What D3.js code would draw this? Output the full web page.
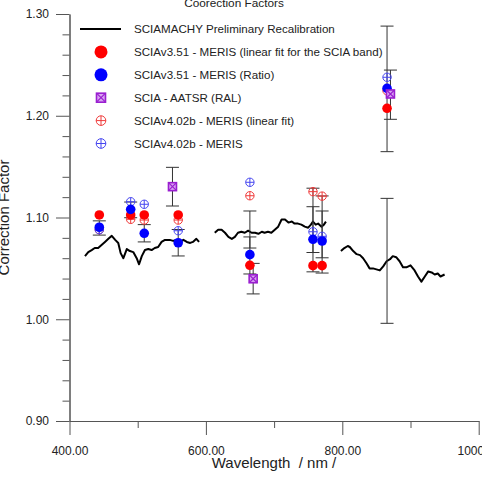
<!DOCTYPE html>
<html>
<head>
<meta charset="utf-8">
<script src="https://cdn.jsdelivr.net/npm/d3@7"></script>
<style>
  body { margin: 0; background: #fff; }
  svg { font-family: "Liberation Sans", Arial, Helvetica, sans-serif; }
</style>
</head>
<body>
<div id="chart"></div>
<script>
let w = 482
let h = 482

// SCIAMACHY preliminary recalibration curve (null = gap)
let recalWl = [422.7, 427.5, 432.5, 437, 442, 447, 452, 457, 462, 467, 471.5, 475, 479, 484, 488.6, 493.5, 498.5, 502, 506, 510.6, 515.5, 520.4, 525, 530, 535, 540, 547, 552, 557, 562, 567, 572, 577, 581, 586, 590,
  600,
  613, 618, 623, 628, 633, 638, 642.5, 647, 652, 657, 662, 667, 672, 677, 682, 686, 691, 696, 701, 706, 711, 716, 721, 726, 730, 735, 740, 745, 750, 754, 757, 761, 764.5, 769.5, 773, 776,
  790,
  798, 803, 808, 811, 816, 821, 826, 830.5, 835.5, 840, 845, 850, 855, 860, 865, 870, 874, 879, 884, 889, 894, 900, 906, 911, 916, 921, 926, 931, 935.5, 940, 944, 950]
let recalVal = [1.062, 1.066, 1.068, 1.070, 1.070, 1.073, 1.076, 1.079, 1.082, 1.078, 1.075, 1.065, 1.060, 1.069, 1.067, 1.066, 1.060, 1.054, 1.062, 1.068, 1.069, 1.068, 1.070, 1.071, 1.076, 1.078, 1.078, 1.077, 1.078, 1.076, 1.078, 1.076, 1.075, 1.076, 1.079, 1.076,
  null,
  1.085, 1.088, 1.088, 1.085, 1.081, 1.079, 1.081, 1.085, 1.086, 1.085, 1.087, 1.085, 1.085, 1.084, 1.086, 1.085, 1.086, 1.085, 1.088, 1.091, 1.098, 1.098, 1.095, 1.096, 1.094, 1.094, 1.093, 1.091, 1.090, 1.093, 1.096, 1.093, 1.094, 1.091, 1.093, 1.096,
  null,
  1.067, 1.070, 1.072, 1.071, 1.067, 1.064, 1.063, 1.060, 1.055, 1.050, 1.050, 1.049, 1.048, 1.052, 1.057, 1.059, 1.062, 1.061, 1.057, 1.051, 1.051, 1.053, 1.048, 1.042, 1.037, 1.042, 1.047, 1.046, 1.044, 1.045, 1.042, 1.044]

// MERIS band centres
let bandWl = [443.7, 489.7, 509.6, 559.4, 664.5, 757, 770.4, 865.6]
let v351Fit = [1.1025, 1.1025, 1.1025, 1.1025, 1.0530, 1.0527, 1.0527, 1.2073]
let v351Ratio = [1.0904, 1.108, 1.0845, 1.0752, 1.0635, 1.0786, 1.0769, 1.227]
let v402Fit = [1.088, 1.0982, 1.0975, 1.0975, 1.1214, 1.1254, 1.121, 1.2246]
let v402 = [1.088, 1.1155, 1.113, 1.087, 1.1346, 1.086, 1.0815, 1.2378]

// SCIA - AATSR
let aatsrWl = [551, 669.3, 870.6]
let aatsrVal = [1.1303, 1.0398, 1.2214]

// error bars
let errWl = [443.7, 489.7, 509.6, 551, 559.4, 664.5, 664.5, 669.3, 757, 757, 770.4, 770.4, 865.6, 870.6, 865.6]
let errVal = [1.0897, 1.1075, 1.0845, 1.1303, 1.0752, 1.0882, 1.0627, 1.0399, 1.0972, 1.0786, 1.0908, 1.0759, 1.2264, 1.2207, 1.0574]
let errHalf = [0.007, 0.0077, 0.0085, 0.019, 0.013, 0.0182, 0.0182, 0.015, 0.0316, 0.032, 0.0304, 0.0305, 0.0617, 0.0242, 0.0614]

let xTicks = [400, 600, 800, 1000]
let xMinor = [500, 700, 900]
let yTicks = [0.90, 1.00, 1.10, 1.20, 1.30]
let yMinor = d3.range(0.92, 1.30, 0.02).filter(v => Math.abs(v * 10 - Math.round(v * 10)) > 0.01)

let legendLabels = ["SCIAMACHY Preliminary Recalibration",
  "SCIAv3.51 - MERIS (linear fit for the SCIA band)",
  "SCIAv3.51 - MERIS (Ratio)",
  "SCIA - AATSR (RAL)",
  "SCIAv4.02b - MERIS (linear fit)",
  "SCIAv4.02b - MERIS"]

let RED = "#ff0000", BLUE = "#0000ff", PURPLE = "#9a1fd0"
let RED_LT = "#f03a3a", BLUE_LT = "#4646f0"
let AXIS = "#555"

let svg = d3.select("#chart").append("svg")
  .attr("width", w)
  .attr("height", h)

let x = d3.scaleLinear().domain([400, 1000]).range([69.5, 478.7])
let y = d3.scaleLinear().domain([0.9, 1.3]).range([421, 14])

// Axes
let styleAxis = g => {
  g.select(".domain").attr("stroke", AXIS)
  g.selectAll(".tick line").attr("stroke", AXIS)
  g.selectAll(".tick text").attr("fill", "#222").attr("font-size", 12)
}

svg.append("g")
  .attr("transform", "translate(0," + y(0.9) + ")")
  .call(d3.axisBottom(x).tickValues(xMinor).tickSize(7).tickSizeOuter(0).tickFormat(""))
  .call(styleAxis)

svg.append("g")
  .attr("transform", "translate(0," + y(0.9) + ")")
  .call(d3.axisBottom(x).tickValues(xTicks).tickSize(14).tickSizeOuter(0).tickPadding(11).tickFormat(d3.format(".2f")))
  .call(styleAxis)

svg.append("g")
  .attr("transform", "translate(" + x(400) + ",0)")
  .call(d3.axisLeft(y).tickValues(yMinor).tickSize(7).tickSizeOuter(0).tickFormat(""))
  .call(styleAxis)

svg.append("g")
  .attr("transform", "translate(" + x(400) + ",0)")
  .call(d3.axisLeft(y).tickValues(yTicks).tickSize(13.5).tickSizeOuter(0).tickPadding(7).tickFormat(d3.format(".2f")))
  .call(styleAxis)

// Titles
svg.append("text")
  .attr("x", 234).attr("y", 7)
  .attr("text-anchor", "middle")
  .attr("font-size", 11.8).attr("fill", "#222")
  .text("Coorection Factors")

svg.append("text")
  .attr("x", 274).attr("y", 468)
  .attr("text-anchor", "middle")
  .attr("font-size", 15).attr("fill", "#222")
  .attr("xml:space", "preserve")
  .text("Wavelength  / nm /")

svg.append("text")
  .attr("transform", "translate(8.5," + y(1.1) + ") rotate(-90)")
  .attr("text-anchor", "middle")
  .attr("font-size", 15).attr("fill", "#222")
  .text("Correction Factor")

// Recalibration curve
let recal = recalWl.map((d, i) => ({ wl: d, v: recalVal[i] }))
let line = d3.line()
  .defined(d => d.v !== null)
  .x(d => x(d.wl))
  .y(d => y(d.v))

svg.append("path")
  .datum(recal)
  .attr("fill", "none")
  .attr("stroke", "#000")
  .attr("stroke-width", 2)
  .attr("stroke-linejoin", "round")
  .attr("d", line)

// Error bars
let errs = errWl.map((d, i) => ({ wl: d, v: errVal[i], e: errHalf[i] }))
let eg = svg.append("g").attr("stroke", "#333").attr("stroke-width", 1)
errs.forEach(d => {
  let cx = x(d.wl), y0 = y(d.v - d.e), y1 = y(d.v + d.e)
  eg.append("line").attr("x1", cx).attr("x2", cx).attr("y1", y0).attr("y2", y1)
  eg.append("line").attr("x1", cx - 6.5).attr("x2", cx + 6.5).attr("y1", y0).attr("y2", y0)
  eg.append("line").attr("x1", cx - 6.5).attr("x2", cx + 6.5).attr("y1", y1).attr("y2", y1)
})

// symbol helpers
let crossCircle = (g, cx, cy, r, color) => {
  g.append("circle").attr("cx", cx).attr("cy", cy).attr("r", r)
    .attr("fill", "none").attr("stroke", color).attr("stroke-width", 1)
  g.append("line").attr("x1", cx - r).attr("x2", cx + r).attr("y1", cy).attr("y2", cy)
    .attr("stroke", color).attr("stroke-width", 1)
  g.append("line").attr("x1", cx).attr("x2", cx).attr("y1", cy - r).attr("y2", cy + r)
    .attr("stroke", color).attr("stroke-width", 1)
}
let xSquare = (g, cx, cy, s) => {
  g.append("rect").attr("x", cx - s / 2).attr("y", cy - s / 2).attr("width", s).attr("height", s)
    .attr("fill", "#d9a3f2").attr("stroke", PURPLE).attr("stroke-width", 1.6)
  g.append("path")
    .attr("d", `M${cx - s / 2},${cy - s / 2}L${cx + s / 2},${cy + s / 2}M${cx + s / 2},${cy - s / 2}L${cx - s / 2},${cy + s / 2}`)
    .attr("stroke", PURPLE).attr("stroke-width", 1.2)
}

let pts = svg.append("g")

// v4.02b hollow markers
bandWl.forEach((d, i) => crossCircle(pts, x(d), y(v402Fit[i]), 4.2, RED_LT))
bandWl.forEach((d, i) => crossCircle(pts, x(d), y(v402[i]), 4.2, BLUE_LT))

// v3.51 filled markers
pts.selectAll("circle.fit").data(bandWl).enter().append("circle")
  .attr("class", "fit")
  .attr("cx", d => x(d)).attr("cy", (d, i) => y(v351Fit[i])).attr("r", 4.8)
  .attr("fill", RED)
pts.selectAll("circle.ratio").data(bandWl).enter().append("circle")
  .attr("class", "ratio")
  .attr("cx", d => x(d)).attr("cy", (d, i) => y(v351Ratio[i])).attr("r", 4.8)
  .attr("fill", BLUE)

// AATSR
aatsrWl.forEach((d, i) => xSquare(pts, x(d), y(aatsrVal[i]), 8))

// Legend
let lg = svg.append("g")
let rowY = i => 29 + i * 22.9
lg.append("line").attr("x1", 80).attr("x2", 121).attr("y1", rowY(0)).attr("y2", rowY(0))
  .attr("stroke", "#000").attr("stroke-width", 2)
lg.append("circle").attr("cx", 101).attr("cy", rowY(1)).attr("r", 6.5).attr("fill", RED)
lg.append("circle").attr("cx", 101).attr("cy", rowY(2)).attr("r", 6.5).attr("fill", BLUE)
xSquare(lg, 101, rowY(3), 9)
crossCircle(lg, 101, rowY(4), 4.8, RED_LT)
crossCircle(lg, 101, rowY(5), 4.8, BLUE_LT)

lg.selectAll("text").data(legendLabels).enter().append("text")
  .attr("x", 134).attr("y", (d, i) => rowY(i) + 4.2)
  .attr("font-size", 11.6).attr("fill", "#222")
  .text(d => d)
</script>
</body>
</html>
